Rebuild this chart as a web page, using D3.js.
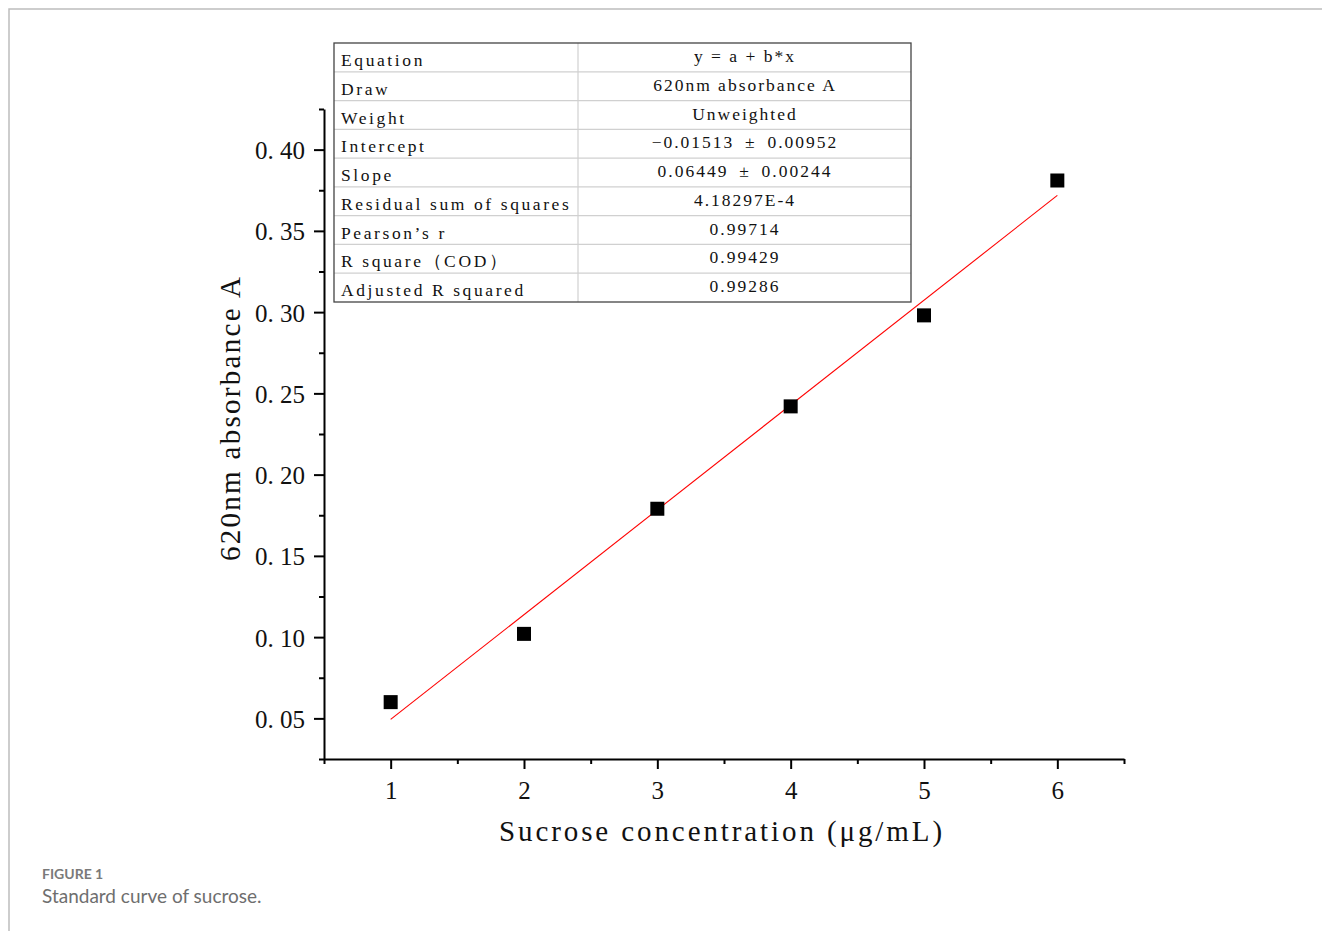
<!DOCTYPE html>
<html>
<head>
<meta charset="utf-8">
<script src="https://cdn.jsdelivr.net/npm/d3@7"></script>
<style>
	body { margin: 0; background: #fff; }
	svg { display: block; }
	.serif { font-family: "Liberation Serif", "DejaVu Serif", serif; fill: #111; }
	.caption { font-family: Lato, "Open Sans", sans-serif; }
</style>
</head>
<body>
<div id="main"></div>
<script>
// data
const concentration = [1, 2, 3, 4, 5, 6];
const absorbance = [0.060, 0.102, 0.179, 0.242, 0.298, 0.381];
const fit_intercept = -0.01513;
const fit_slope = 0.06449;
const x_ticks = [1, 2, 3, 4, 5, 6];
const x_minor = [0.5, 1.5, 2.5, 3.5, 4.5, 5.5, 6.5];
const y_ticks = [0.05, 0.10, 0.15, 0.20, 0.25, 0.30, 0.35, 0.40];
const y_minor = [0.025, 0.075, 0.125, 0.175, 0.225, 0.275, 0.325, 0.375, 0.425];
const table_labels = ["Equation", "Draw", "Weight", "Intercept", "Slope",
	"Residual sum of squares", "Pearson\u2019s r", "R square\uFF08COD\uFF09", "Adjusted R squared"];
const table_values = ["y = a + b*x", "620nm absorbance A", "Unweighted",
	"\u22120.01513\u2002\u00B1\u20020.00952", "0.06449\u2002\u00B1\u20020.00244", "4.18297E-4",
	"0.99714", "0.99429", "0.99286"];

let W = 1322, H = 931;
let svg = d3.select("#main").append("svg").attr("width", W).attr("height", H);

// page frame (top and left rules)
svg.append("path").attr("d", "M9,931 V9 H1322")
	.attr("fill", "none").attr("stroke", "#bdbdbd").attr("stroke-width", 1.5);

let x = d3.scaleLinear().domain([0.5, 6.5]).range([324, 1124]);
let y = d3.scaleLinear().domain([0.025, 0.425]).range([759, 109]);

// minor ticks
svg.append("g").attr("transform", "translate(0,759)")
	.call(d3.axisBottom(x).tickValues(x_minor).tickSize(5).tickSizeOuter(0).tickFormat(""))
	.call(g => g.select(".domain").remove())
	.call(g => g.selectAll("line").attr("stroke", "#000").attr("stroke-width", 2));
svg.append("g").attr("transform", "translate(324,0)")
	.call(d3.axisLeft(y).tickValues(y_minor).tickSize(5).tickSizeOuter(0).tickFormat(""))
	.call(g => g.select(".domain").remove())
	.call(g => g.selectAll("line").attr("stroke", "#000").attr("stroke-width", 2));

// major axes
let x_axis = svg.append("g").attr("transform", "translate(0,759)")
	.call(d3.axisBottom(x).tickValues(x_ticks).tickSize(10).tickSizeOuter(0).tickPadding(11).tickFormat(d3.format("d")));
let y_axis = svg.append("g").attr("transform", "translate(324,0)")
	.call(d3.axisLeft(y).tickValues(y_ticks).tickSize(10).tickSizeOuter(0).tickPadding(9)
		.tickFormat(d => d3.format(".2f")(d).replace(".", ". ")));
[x_axis, y_axis].forEach(function (g) {
	g.select(".domain").attr("stroke", "#000").attr("stroke-width", 2);
	g.selectAll("line").attr("stroke", "#000").attr("stroke-width", 2);
	g.selectAll("text").attr("class", "serif").style("font-size", "25px").attr("fill", "#111")
		.attr("font-family", "Liberation Serif");
});
y_axis.selectAll("text").attr("dy", "0.36em");
x_axis.selectAll("text").attr("dy", "0.75em");

// fit line
svg.append("line")
	.attr("x1", x(concentration[0])).attr("y1", y(fit_intercept + fit_slope * concentration[0]))
	.attr("x2", x(concentration[5])).attr("y2", y(fit_intercept + fit_slope * concentration[5]))
	.attr("stroke", "#ff0000").attr("stroke-width", 1.1);

// points
svg.append("g").selectAll("rect")
	.data(concentration).enter()
	.append("rect")
	.attr("x", (d) => x(d) - 7)
	.attr("y", (d, i) => y(absorbance[i]) - 7)
	.attr("width", 14).attr("height", 14)
	.attr("fill", "#000");

// axis titles
svg.append("text").attr("class", "serif")
	.attr("x", 722).attr("y", 841)
	.attr("text-anchor", "middle")
	.style("font-size", "29px").style("letter-spacing", "2.9px")
	.text("Sucrose concentration\u00A0(\u03BCg/mL)");
svg.append("text").attr("class", "serif")
	.attr("transform", "translate(240,418) rotate(-90)")
	.attr("text-anchor", "middle")
	.style("font-size", "29px").style("letter-spacing", "2.3px")
	.text("620nm absorbance A");

// statistics table
let tbl = { x0: 334, x1: 911, xc: 578, y0: 43, y1: 302 };
let rows = d3.scaleBand().domain(d3.range(table_labels.length)).range([tbl.y0, tbl.y1]);
let table = svg.append("g");
table.selectAll("line.row")
	.data(d3.range(1, table_labels.length)).enter()
	.append("line").attr("class", "row")
	.attr("x1", tbl.x0).attr("x2", tbl.x1)
	.attr("y1", (d) => rows(d)).attr("y2", (d) => rows(d))
	.attr("stroke", "#d0d0d0").attr("stroke-width", 1.2);
table.append("line")
	.attr("x1", tbl.xc).attr("x2", tbl.xc).attr("y1", tbl.y0).attr("y2", tbl.y1)
	.attr("stroke", "#d0d0d0").attr("stroke-width", 1.2);
table.append("rect")
	.attr("x", tbl.x0).attr("y", tbl.y0)
	.attr("width", tbl.x1 - tbl.x0).attr("height", tbl.y1 - tbl.y0)
	.attr("fill", "none").attr("stroke", "#444").attr("stroke-width", 1.3);
table.selectAll("text.lbl")
	.data(table_labels).enter()
	.append("text").attr("class", "serif lbl")
	.attr("x", 341).attr("y", (d, i) => rows(i) + 23)
	.style("font-size", "17.5px").style("letter-spacing", "2.6px")
	.text((d) => d);
table.selectAll("text.val")
	.data(table_values).enter()
	.append("text").attr("class", "serif val")
	.attr("x", 745).attr("y", (d, i) => rows(i) + 19)
	.attr("text-anchor", "middle")
	.style("font-size", "17.5px").style("letter-spacing", "2px")
	.text((d) => d);

// caption
svg.append("text").attr("class", "caption")
	.attr("x", 42).attr("y", 879)
	.style("font-size", "14px").style("font-weight", "bold").attr("fill", "#7a7a7a")
	.text("FIGURE 1");
svg.append("text").attr("class", "caption")
	.attr("x", 42).attr("y", 903)
	.style("font-size", "19px").attr("fill", "#6e6e6e")
	.text("Standard curve of sucrose.");
</script>
</body>
</html>
